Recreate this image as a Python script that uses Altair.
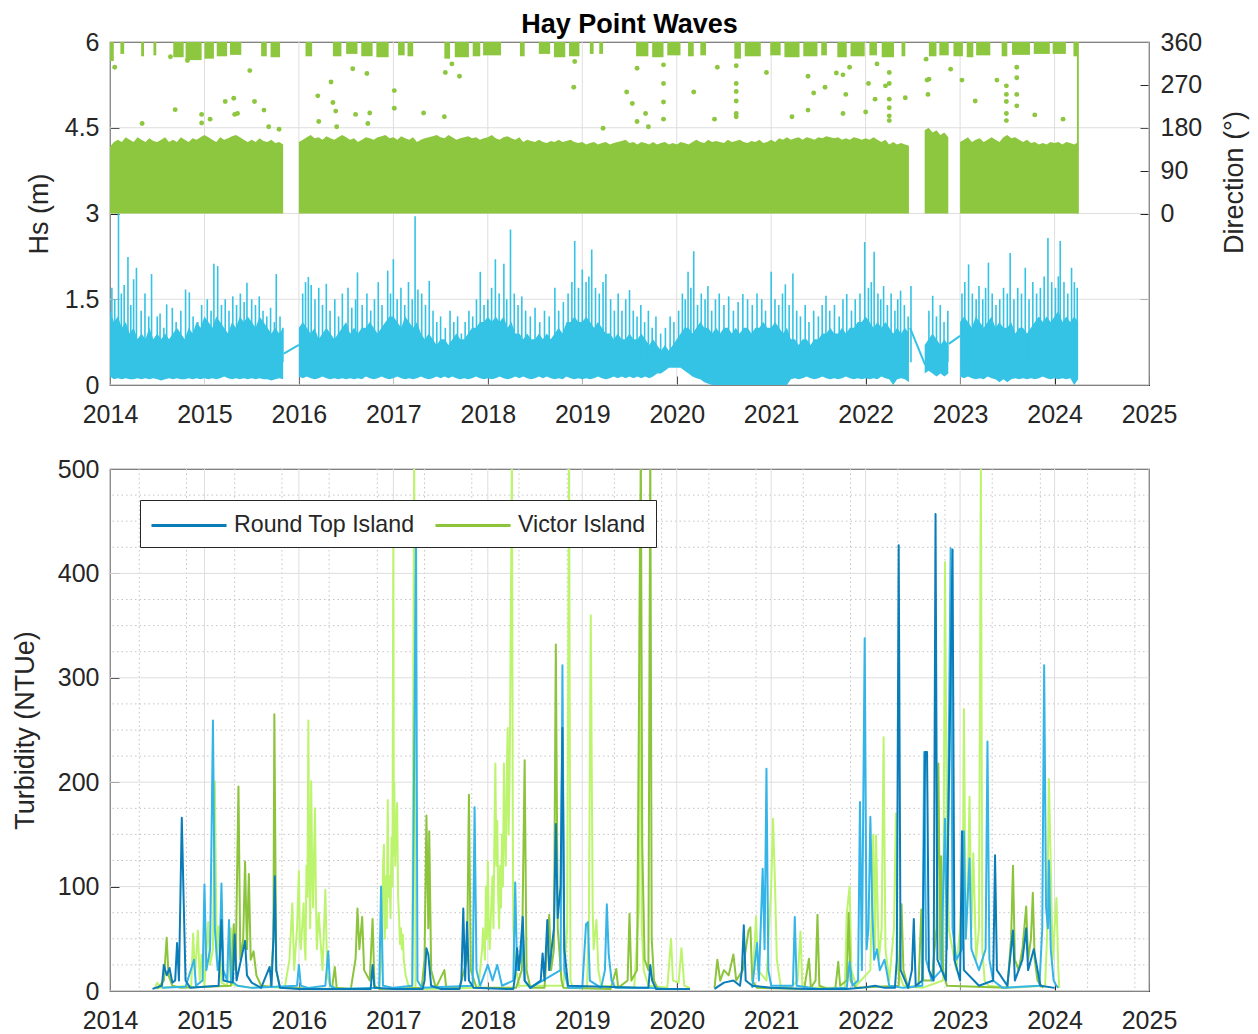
import altair as alt
import pandas as pd

FONT = "Liberation Sans"
INK = "#262626"
GRID = "#dedede"
MINOR = "#c4c4c4"
CYAN = "#34c3e5"
GREEN = "#8dc63f"
RT_LIGHT_C = "#35b4e8"
RT_DARK_C = "#0a7db8"
VI_DARK_C = "#8cc43c"
VI_LIGHT_C = "#bdf46e"

# ---------------- axis tick values ----------------
year_ticks = list(range(2014, 2026))
minor_year_ticks = [2014.31, 2014.81, 2015.32, 2015.82, 2016.32, 2016.83, 2017.33, 2017.83,
                    2018.33, 2018.84, 2019.34, 2019.84, 2020.34, 2020.84, 2021.34, 2021.84,
                    2022.34, 2022.84, 2023.34, 2023.85, 2024.35, 2024.85]
hs_ticks = [0, 1.5, 3, 4.5, 6]
dir_ticks = [-360, -180, 0, 90, 180, 270, 360]
turb_ticks = [0, 100, 200, 300, 400, 500]
turb_minor_ticks = [25, 50, 75, 125, 150, 175, 225, 250, 275, 325, 350, 375, 425, 450, 475]

# ---------------- Hs: half-monthly envelope (m), None = no data ----------------
hs_upper = {
    2014: [1.3, 1.1, 1.2, 1.0, 1.1, 0.9, 1.0, 0.8, 0.9, 0.8, 1.0, 0.8, 0.9, 0.8, 0.9, 0.8, 0.9, 1.0, 0.9, 0.8, 1.0, 0.9, 1.1, 1.0],
    2015: [1.2, 1.1, 1.0, 1.2, 1.1, 1.0, 0.9, 1.1, 1.0, 1.2, 1.1, 1.2, 1.1, 1.0, 1.2, 1.1, 1.0, 0.9, 1.0, 0.9, 1.0, None, None, None],
    2016: [1.0, 1.1, 1.0, 0.9, 1.0, 0.8, 0.9, 1.0, 0.9, 0.8, 0.9, 1.0, 1.1, 0.9, 1.0, 0.9, 1.0, 1.0, 1.1, 1.0, 0.9, 1.0, 1.1, 1.2],
    2017: [1.2, 1.1, 1.0, 1.2, 1.1, 1.0, 1.1, 0.9, 0.8, 0.9, 0.8, 0.7, 0.8, 0.8, 0.7, 0.8, 0.9, 0.8, 0.8, 0.9, 1.0, 1.0, 1.1, 1.1],
    2018: [1.2, 1.1, 1.2, 1.1, 1.2, 1.0, 1.1, 0.9, 0.9, 0.8, 0.9, 0.8, 0.8, 0.9, 0.8, 0.9, 0.8, 0.9, 1.0, 0.9, 1.1, 1.1, 1.2, 1.1],
    2019: [1.1, 1.2, 1.1, 1.0, 1.1, 1.0, 0.9, 0.9, 0.8, 0.9, 0.8, 0.8, 0.9, 0.8, 0.8, 0.9, 0.8, 0.7, 0.8, 0.7, 0.6, 0.7, 0.6, 0.7],
    2020: [0.8, 0.9, 1.0, 1.0, 0.9, 1.0, 1.1, 1.0, 1.0, 0.9, 1.0, 0.9, 1.0, 1.0, 0.9, 1.0, 0.9, 1.0, 1.0, 0.9, 1.0, 1.0, 1.1, 1.0],
    2021: [1.0, 1.1, 1.0, 0.9, 1.0, 0.8, 0.8, 0.7, 0.8, 0.8, 0.7, 0.8, 0.8, 0.9, 0.9, 1.0, 0.9, 0.9, 1.0, 0.9, 1.0, 1.0, 1.1, 1.1],
    2022: [1.2, 1.1, 1.0, 1.1, 1.0, 1.1, 1.0, 0.9, 1.0, 0.9, 1.0, 0.9, None, None, None, 0.7, 0.8, 0.9, 0.8, 0.7, 0.8, 0.7, None, None],
    2023: [1.1, 1.2, 1.1, 1.0, 1.2, 1.1, 1.0, 1.1, 1.2, 1.0, 1.1, 1.0, 1.0, 1.1, 0.9, 1.0, 1.0, 0.9, 1.0, 1.1, 1.2, 1.1, 1.2, 1.1],
    2024: [1.2, 1.3, 1.1, 1.2, 1.1, 1.2, 1.1],
}
hs_lower = {
    2014: [0.15, 0.1, 0.12, 0.1, 0.12, 0.1, 0.1, 0.12, 0.1, 0.12, 0.1, 0.12, 0.1, 0.08, 0.1, 0.12, 0.1, 0.12, 0.1, 0.1, 0.12, 0.1, 0.12, 0.1],
    2015: [0.12, 0.1, 0.12, 0.1, 0.12, 0.15, 0.12, 0.1, 0.12, 0.1, 0.12, 0.1, 0.12, 0.1, 0.12, 0.1, 0.1, 0.08, 0.1, 0.12, 0.1, None, None, None],
    2016: [0.15, 0.12, 0.15, 0.12, 0.1, 0.12, 0.15, 0.12, 0.1, 0.12, 0.1, 0.12, 0.1, 0.12, 0.1, 0.12, 0.1, 0.15, 0.12, 0.1, 0.12, 0.15, 0.12, 0.1],
    2017: [0.12, 0.15, 0.12, 0.1, 0.12, 0.1, 0.12, 0.15, 0.12, 0.1, 0.12, 0.15, 0.12, 0.15, 0.12, 0.15, 0.12, 0.1, 0.12, 0.1, 0.12, 0.15, 0.12, 0.1],
    2018: [0.12, 0.1, 0.12, 0.15, 0.12, 0.1, 0.12, 0.15, 0.12, 0.15, 0.12, 0.1, 0.12, 0.15, 0.12, 0.15, 0.12, 0.1, 0.12, 0.1, 0.15, 0.12, 0.1, 0.12],
    2019: [0.1, 0.12, 0.1, 0.12, 0.15, 0.12, 0.1, 0.12, 0.15, 0.12, 0.15, 0.12, 0.15, 0.12, 0.15, 0.12, 0.15, 0.12, 0.15, 0.2, 0.2, 0.25, 0.3, 0.3],
    2020: [0.3, 0.3, 0.25, 0.2, 0.15, 0.12, 0.1, 0.05, 0.02, 0, 0, 0, 0, 0, 0, 0, 0, 0, 0, 0, 0, 0, 0, 0],
    2021: [0, 0, 0, 0, 0, 0.1, 0.12, 0.1, 0.12, 0.15, 0.12, 0.1, 0.12, 0.15, 0.12, 0.1, 0.12, 0.1, 0.12, 0.15, 0.12, 0.1, 0.12, 0.1],
    2022: [0.12, 0.1, 0.12, 0.1, 0.15, 0.12, 0.1, 0.0, 0.1, 0.12, 0.1, 0.05, None, None, None, 0.2, 0.25, 0.2, 0.15, 0.2, 0.15, 0.2, None, None],
    2023: [0.15, 0.12, 0.15, 0.12, 0.1, 0.12, 0.1, 0.15, 0.12, 0.1, 0.05, 0.1, 0.05, 0.1, 0.12, 0.1, 0.12, 0.1, 0.12, 0.1, 0.12, 0.15, 0.12, 0.1],
    2024: [0.12, 0.1, 0.12, 0.1, 0.12, 0.0, 0.1],
}
# individual Hs peaks (decimal year, m)
hs_spikes = [
    (2014.02, 1.7), (2014.05, 1.5), (2014.09, 3.13), (2014.12, 1.6), (2014.15, 1.75), (2014.19, 2.24), (2014.22, 1.4),
    (2014.25, 1.85), (2014.28, 2.05), (2014.33, 1.3), (2014.37, 1.6), (2014.41, 1.2), (2014.44, 1.94), (2014.5, 1.2),
    (2014.53, 1.25), (2014.57, 1.0), (2014.6, 1.41), (2014.66, 1.35), (2014.7, 1.1), (2014.75, 1.3), (2014.8, 1.67),
    (2014.84, 1.62), (2014.88, 1.2), (2014.93, 1.1), (2014.97, 1.4),
    (2015.03, 1.5), (2015.07, 1.3), (2015.1, 2.12), (2015.14, 2.08), (2015.18, 1.4), (2015.22, 1.5), (2015.26, 1.3),
    (2015.3, 1.55), (2015.34, 1.4), (2015.38, 1.6), (2015.42, 1.45), (2015.45, 1.79), (2015.5, 1.5), (2015.54, 1.4),
    (2015.58, 1.55), (2015.62, 1.3), (2015.66, 1.2), (2015.7, 1.35), (2015.74, 1.1), (2015.76, 1.94), (2015.8, 1.2), (2015.83, 1.0),
    (2016.04, 1.6), (2016.07, 1.8), (2016.1, 1.89), (2016.13, 1.75), (2016.17, 1.5), (2016.21, 1.7), (2016.25, 1.4),
    (2016.29, 1.77), (2016.33, 1.3), (2016.38, 1.5), (2016.42, 1.2), (2016.46, 1.6), (2016.52, 1.7), (2016.56, 1.35),
    (2016.6, 1.5), (2016.62, 1.97), (2016.67, 1.4), (2016.72, 1.6), (2016.76, 1.3), (2016.8, 1.5), (2016.84, 1.8),
    (2016.88, 1.4), (2016.94, 2.0), (2016.97, 1.6),
    (2017.0, 2.2), (2017.04, 1.5), (2017.08, 1.7), (2017.12, 1.4), (2017.16, 1.8), (2017.2, 1.5), (2017.23, 2.95),
    (2017.26, 1.67), (2017.3, 1.6), (2017.34, 1.4), (2017.38, 1.82), (2017.42, 1.3), (2017.46, 1.1), (2017.5, 1.2),
    (2017.55, 1.0), (2017.6, 1.3), (2017.64, 1.1), (2017.68, 1.2), (2017.72, 0.9), (2017.76, 1.1), (2017.8, 1.3),
    (2017.84, 1.2), (2017.88, 1.5), (2017.92, 1.98), (2017.96, 1.4),
    (2018.0, 1.5), (2018.04, 1.7), (2018.08, 2.2), (2018.12, 1.6), (2018.17, 2.12), (2018.2, 1.5), (2018.24, 2.72),
    (2018.28, 1.6), (2018.32, 1.4), (2018.36, 1.55), (2018.4, 1.3), (2018.45, 1.2), (2018.5, 1.35), (2018.55, 1.1),
    (2018.6, 1.3), (2018.65, 1.2), (2018.71, 1.7), (2018.75, 1.3), (2018.8, 1.45), (2018.85, 1.6), (2018.89, 1.8),
    (2018.92, 2.52), (2018.96, 1.7),
    (2019.0, 2.02), (2019.04, 1.8), (2019.07, 1.9), (2019.1, 2.37), (2019.14, 1.7), (2019.18, 1.6), (2019.22, 1.8),
    (2019.25, 1.94), (2019.3, 1.5), (2019.34, 1.3), (2019.38, 1.6), (2019.42, 1.3), (2019.46, 1.5), (2019.5, 1.66),
    (2019.54, 1.3), (2019.58, 1.2), (2019.62, 1.4), (2019.66, 1.1), (2019.7, 1.3), (2019.74, 1.0), (2019.78, 1.2),
    (2019.83, 0.9), (2019.88, 1.0), (2019.93, 1.2), (2019.97, 1.1),
    (2020.02, 1.3), (2020.06, 1.6), (2020.09, 1.5), (2020.12, 1.98), (2020.15, 1.7), (2020.18, 2.34), (2020.22, 1.4),
    (2020.26, 1.6), (2020.3, 1.5), (2020.33, 1.73), (2020.37, 1.3), (2020.41, 1.5), (2020.45, 1.6), (2020.5, 1.4),
    (2020.55, 1.55), (2020.6, 1.3), (2020.65, 1.45), (2020.7, 1.59), (2020.75, 1.5), (2020.8, 1.4), (2020.85, 1.6),
    (2020.9, 1.5), (2020.94, 1.3),
    (2021.0, 1.98), (2021.04, 1.5), (2021.08, 1.4), (2021.12, 1.6), (2021.15, 1.76), (2021.19, 1.4), (2021.23, 1.95),
    (2021.27, 1.3), (2021.31, 1.2), (2021.36, 1.4), (2021.4, 1.1), (2021.45, 1.3), (2021.5, 1.2), (2021.54, 1.4),
    (2021.58, 1.56), (2021.62, 1.3), (2021.67, 1.4), (2021.72, 1.2), (2021.76, 1.5), (2021.8, 1.59), (2021.85, 1.3),
    (2021.89, 1.5), (2021.94, 1.6), (2021.99, 2.5),
    (2022.03, 1.7), (2022.06, 1.8), (2022.09, 2.33), (2022.13, 1.6), (2022.16, 1.5), (2022.19, 1.73), (2022.23, 1.4),
    (2022.27, 1.6), (2022.31, 1.3), (2022.34, 1.5), (2022.37, 1.65), (2022.41, 1.4), (2022.45, 1.2), (2022.48, 1.73),
    (2022.67, 1.3), (2022.71, 1.56), (2022.75, 1.2), (2022.79, 1.4), (2022.83, 1.1), (2022.87, 1.3),
    (2023.02, 1.6), (2023.05, 1.8), (2023.09, 2.11), (2023.13, 1.6), (2023.17, 1.5), (2023.2, 1.73), (2023.24, 1.5),
    (2023.27, 1.7), (2023.3, 2.14), (2023.34, 1.6), (2023.38, 1.4), (2023.42, 1.5), (2023.46, 1.7), (2023.5, 1.6),
    (2023.53, 2.31), (2023.57, 1.5), (2023.61, 1.7), (2023.65, 1.6), (2023.69, 2.05), (2023.73, 1.5), (2023.77, 1.8),
    (2023.81, 1.6), (2023.85, 1.7), (2023.89, 1.9), (2023.93, 2.57), (2023.97, 1.8),
    (2024.01, 1.7), (2024.04, 1.9), (2024.06, 2.52), (2024.1, 1.8), (2024.14, 1.6), (2024.18, 2.05), (2024.21, 1.8), (2024.24, 1.7),
]
# straight joins across missing Hs records: (t0, v0, t1, v1)
hs_joins = [(2015.84, 0.55, 2016.0, 0.7), (2022.47, 1.0, 2022.63, 0.35), (2022.88, 0.72, 2023.0, 0.86)]

# ---------------- Direction (deg) ----------------
dir_upper = {
    2014: [140, 150, 155, 150, 160, 155, 150, 160, 155, 150, 158, 152, 150, 155, 160, 150, 155, 150, 160, 155, 150, 158, 155, 160],
    2015: [165, 160, 155, 150, 160, 155, 158, 162, 165, 160, 155, 150, 155, 150, 158, 152, 150, 155, 148, 150, 145, None, None, None],
    2016: [150, 155, 160, 165, 158, 160, 155, 162, 158, 155, 160, 165, 160, 155, 158, 150, 155, 160, 158, 155, 160, 162, 165, 158],
    2017: [160, 155, 162, 158, 155, 160, 150, 155, 158, 160, 162, 165, 160, 158, 165, 160, 155, 158, 160, 162, 158, 160, 155, 158],
    2018: [160, 165, 158, 155, 160, 162, 158, 155, 160, 150, 155, 152, 150, 155, 150, 148, 152, 150, 155, 150, 152, 155, 150, 148],
    2019: [150, 145, 148, 150, 145, 148, 150, 145, 148, 150, 152, 155, 148, 150, 145, 150, 148, 145, 150, 145, 148, 150, 145, 148],
    2020: [145, 150, 148, 145, 150, 155, 150, 148, 155, 150, 152, 150, 148, 155, 150, 152, 155, 150, 148, 152, 150, 155, 148, 150],
    2021: [155, 150, 158, 155, 160, 155, 158, 160, 155, 160, 158, 155, 160, 158, 162, 160, 158, 160, 155, 158, 155, 160, 158, 155],
    2022: [158, 155, 160, 155, 150, 155, 145, 150, 145, 148, 145, 142, None, None, None, 175, 180, 170, 175, 165, 170, 160, None, None],
    2023: [150, 155, 160, 150, 155, 158, 150, 155, 160, 155, 150, 160, 165, 158, 160, 155, 150, 155, 148, 150, 145, 148, 145, 150],
    2024: [148, 150, 145, 150, 148, 145, 150],
}
# clusters of near-northerly readings: start, end, lowest direction
dir_cluster_start = [2014.0, 2014.11, 2014.33, 2014.46, 2014.67, 2014.8, 2015.0, 2015.13, 2015.27, 2015.6, 2015.7,
                     2016.07, 2016.36, 2016.5, 2016.66, 2016.82, 2017.05, 2017.15, 2017.54, 2017.65, 2017.84, 2017.95,
                     2018.34, 2018.54, 2018.7, 2018.86, 2019.08, 2019.18, 2019.57, 2019.74, 2019.9, 2020.12, 2020.25,
                     2020.61, 2020.72, 2020.99, 2021.14, 2021.34, 2021.53, 2021.7, 2021.84, 2022.04, 2022.17, 2022.38,
                     2022.67, 2022.78, 2022.93, 2023.07, 2023.17, 2023.44, 2023.55, 2023.78, 2023.98, 2024.2, 2024.237]
dir_cluster_end = [2014.04, 2014.15, 2014.36, 2014.49, 2014.78, 2014.97, 2015.1, 2015.24, 2015.39, 2015.66, 2015.8,
                   2016.14, 2016.45, 2016.62, 2016.78, 2016.95, 2017.12, 2017.21, 2017.6, 2017.8, 2017.92, 2018.14,
                   2018.39, 2018.66, 2018.82, 2018.97, 2019.12, 2019.22, 2019.7, 2019.86, 2020.04, 2020.18, 2020.31,
                   2020.68, 2020.89, 2021.1, 2021.3, 2021.49, 2021.59, 2021.8, 2021.99, 2022.12, 2022.3, 2022.42,
                   2022.75, 2022.88, 2023.03, 2023.14, 2023.32, 2023.5, 2023.74, 2023.95, 2024.12, 2024.25, 2024.257]
dir_cluster_low = [320, 335, 330, 332, 328, 322, 325, 330, 333, 330, 328,
                   330, 330, 335, 330, 328, 332, 330, 325, 328, 330, 332,
                   330, 335, 328, 330, 335, 335, 330, 328, 332, 330, 332,
                   325, 330, 332, 328, 330, 332, 328, 330, 332, 328, 330,
                   330, 332, 330, 328, 332, 330, 333, 335, 335, 330, 0]
# scattered readings
dir_out_t = [2014.05, 2014.34, 2014.64, 2014.69, 2014.82, 2014.97, 2014.97, 2015.06, 2015.22, 2015.31, 2015.32, 2015.35,
             2015.48, 2015.53, 2015.63, 2015.68, 2015.79, 2016.2, 2016.21, 2016.34, 2016.36, 2016.39, 2016.4, 2016.57,
             2016.6, 2016.72, 2016.73, 2016.75, 2017.01, 2017.01, 2017.32, 2017.54, 2017.55, 2017.62, 2017.7, 2018.91,
             2018.92, 2019.22, 2019.47, 2019.53, 2019.58, 2019.58, 2019.67, 2019.7, 2019.86, 2019.86, 2019.86, 2019.86,
             2020.18, 2020.4, 2020.43, 2020.63, 2020.63, 2020.63, 2020.63, 2020.63, 2020.63, 2020.95, 2021.22, 2021.39,
             2021.39, 2021.45, 2021.57, 2021.69, 2021.76, 2021.76, 2021.79, 2021.83, 2022.0, 2022.03, 2022.1, 2022.12,
             2022.21, 2022.25, 2022.25, 2022.25, 2022.25, 2022.25, 2022.25, 2022.42, 2022.64, 2022.65, 2022.66, 2022.67,
             2022.9, 2023.02, 2023.16, 2023.39, 2023.49, 2023.49, 2023.49, 2023.49, 2023.49, 2023.6, 2023.6, 2023.6,
             2023.6, 2023.79, 2024.09]
dir_out_v = [307, 189, 329, 218, 321, 208, 190, 198, 235, 242, 208, 210,
             300, 235, 217, 182, 177, 247, 193, 276, 233, 215, 182, 304,
             208, 294, 189, 211, 258, 221, 211, 203, 296, 314, 288, 265,
             319, 179, 255, 231, 305, 193, 210, 182, 312, 273, 234, 198,
             255, 198, 307, 310, 273, 256, 236, 210, 203, 296, 203, 288,
             217, 253, 265, 295, 291, 210, 250, 307, 213, 273, 240, 314,
             268, 296, 273, 240, 222, 205, 195, 243, 324, 280, 250, 282,
             303, 280, 236, 280, 268, 250, 235, 210, 195, 307, 285, 250,
             226, 207, 198]

# ---------------- Turbidity (NTUe): (decimal year, value); None = logger gap ----------------
vi_light = [(2014.47, 2), (2014.50, 8), (2014.53, 3), (2014.86, 5), (2014.88, 55), (2014.90, 15), (2014.93, 58), (2014.95, 10),
            (2014.97, 35), (2015.00, 5), (2015.04, 66), (2015.06, 25), (2015.09, 40), (2015.11, 201), (2015.13, 30), (2015.15, 62),
            (2015.18, 8), (2015.24, 5), (2015.28, 60), (2015.30, 6), (2015.50, 3), (2015.60, 4), (2015.85, 3), (2015.90, 30),
            (2015.93, 84), (2015.95, 20), (2015.98, 60), (2016.00, 115), (2016.01, 50), (2016.02, 40), (2016.04, 70), (2016.05, 84),
            (2016.06, 45), (2016.07, 30), (2016.08, 120), (2016.09, 90), (2016.10, 259), (2016.11, 110), (2016.12, 60), (2016.13, 201),
            (2016.14, 120), (2016.15, 80), (2016.16, 130), (2016.17, 175), (2016.18, 90), (2016.19, 40), (2016.21, 75), (2016.22, 60),
            (2016.25, 20), (2016.28, 97), (2016.30, 15), (2016.33, 5), (2016.40, 3), (2016.50, 2), (2016.85, 3), (2016.88, 40),
            (2016.89, 120), (2016.90, 140), (2016.91, 50), (2016.92, 110), (2016.93, 60), (2016.94, 183), (2016.95, 90), (2016.96, 110),
            (2016.97, 70), (2016.98, 147), (2016.99, 100), (2017.00, 450), (2017.005, 130), (2017.01, 200), (2017.02, 120), (2017.03, 160),
            (2017.04, 180), (2017.05, 90), (2017.06, 71), (2017.07, 45), (2017.08, 60), (2017.09, 40), (2017.10, 54), (2017.11, 30),
            (2017.13, 15), (2017.16, 5), (2017.20, 3), (2017.22, 520), (2017.235, 3), (2017.30, 2), (2017.90, 3), (2017.94, 40),
            (2017.95, 60), (2017.97, 30), (2017.98, 100), (2017.99, 50), (2018.00, 124), (2018.01, 60), (2018.02, 40), (2018.04, 90),
            (2018.05, 110), (2018.06, 60), (2018.07, 150), (2018.08, 218), (2018.09, 120), (2018.10, 163), (2018.11, 90), (2018.12, 60),
            (2018.13, 120), (2018.14, 80), (2018.15, 150), (2018.16, 100), (2018.17, 218), (2018.18, 150), (2018.19, 120), (2018.20, 200),
            (2018.21, 252), (2018.22, 150), (2018.23, 200), (2018.235, 250), (2018.24, 312), (2018.255, 520), (2018.265, 150), (2018.27, 60),
            (2018.28, 40), (2018.30, 20), (2018.33, 5), (2018.80, 5), (2018.84, 60), (2018.86, 520), (2018.875, 10), (2018.90, 3),
            (2019.05, 3), (2019.07, 65), (2019.09, 360), (2019.11, 79), (2019.12, 40), (2019.13, 50), (2019.15, 68), (2019.17, 20),
            (2019.20, 5), (2019.55, 3), (2019.60, 80), (2019.61, 470), (2019.63, 60), (2019.65, 20), (2019.70, 5), (2019.90, 3),
            (2019.94, 50), (2019.96, 10), (2020.02, 8), (2020.05, 41), (2020.08, 5), (2020.14, 3), None,
            (2020.80, 3), (2020.84, 71), (2020.86, 20), (2020.95, 10), (2021.00, 100), (2021.02, 165), (2021.04, 104), (2021.06, 30),
            (2021.10, 5), (2021.20, 3), (2021.28, 10), (2021.31, 57), (2021.33, 5), (2021.40, 3), (2021.78, 3), (2021.80, 74),
            (2021.83, 100), (2021.85, 20), (2021.90, 5), (2022.05, 20), (2022.08, 150), (2022.10, 40), (2022.11, 149), (2022.14, 30),
            (2022.17, 60), (2022.19, 243), (2022.21, 40), (2022.25, 10), (2022.30, 60), (2022.32, 170), (2022.34, 20), (2022.40, 5),
            (2022.60, 3), (2022.82, 10), (2022.84, 411), (2022.86, 150), (2022.88, 60), (2022.96, 20), (2023.00, 60), (2023.03, 120),
            (2023.04, 270), (2023.06, 50), (2023.08, 90), (2023.10, 186), (2023.12, 60), (2023.14, 132), (2023.17, 30), (2023.20, 60),
            (2023.22, 505), (2023.235, 40), (2023.26, 10), (2023.30, 5), (2023.50, 3), (2023.90, 5), (2023.92, 50), (2023.94, 203),
            (2023.96, 120), (2023.98, 30), (2024.02, 89), (2024.04, 20), (2024.05, 3)]
vi_dark = [(2014.50, 2), (2014.57, 10), (2014.60, 51), (2014.62, 15), (2014.66, 5), (2014.75, 3), (2015.28, 5), (2015.31, 64),
           (2015.33, 20), (2015.36, 196), (2015.38, 30), (2015.41, 50), (2015.43, 124), (2015.45, 40), (2015.47, 112), (2015.49, 30),
           (2015.52, 38), (2015.55, 15), (2015.60, 5), (2015.70, 4), (2015.73, 50), (2015.74, 265), (2015.76, 20), (2015.80, 3),
           (2016.35, 2), (2016.38, 23), (2016.40, 3), (2016.55, 2), (2016.60, 31), (2016.62, 79), (2016.64, 40), (2016.67, 71),
           (2016.69, 20), (2016.75, 10), (2016.78, 69), (2016.80, 5), (2016.85, 2), (2017.30, 3), (2017.33, 30), (2017.35, 168),
           (2017.37, 60), (2017.38, 153), (2017.40, 20), (2017.45, 3), (2017.54, 20), (2017.56, 3), (2017.70, 3), (2017.78, 30),
           (2017.80, 188), (2017.82, 20), (2017.88, 3), (2018.30, 3), (2018.36, 20), (2018.39, 221), (2018.41, 20), (2018.45, 3),
           (2018.60, 3), (2018.65, 73), (2018.67, 20), (2018.70, 40), (2018.72, 332), (2018.74, 60), (2018.78, 10), (2018.80, 3),
           (2019.30, 2), (2019.36, 21), (2019.38, 3), (2019.48, 10), (2019.50, 74), (2019.52, 10), (2019.58, 20), (2019.62, 520),
           (2019.635, 140), (2019.66, 30), (2019.70, 20), (2019.72, 520), (2019.735, 50), (2019.76, 10), (2019.80, 2), (2020.14, 2), None,
           (2020.40, 3), (2020.43, 30), (2020.46, 10), (2020.50, 20), (2020.55, 15), (2020.60, 35), (2020.63, 10), (2020.70, 20),
           (2020.76, 58), (2020.78, 61), (2020.80, 10), (2020.85, 3), (2021.35, 2), (2021.40, 31), (2021.42, 3), (2021.47, 10),
           (2021.49, 73), (2021.51, 5), (2021.60, 2), (2021.68, 3), (2021.71, 28), (2021.73, 5), (2021.80, 10), (2021.82, 75),
           (2021.84, 10), (2021.90, 3), (2022.35, 5), (2022.38, 83), (2022.40, 20), (2022.45, 3), (2022.56, 5), (2022.59, 78),
           (2022.61, 10), (2022.70, 10), (2022.75, 60), (2022.77, 218), (2022.79, 30), (2022.80, 129), (2022.82, 20), (2022.86, 5),
           (2023.50, 3), (2023.54, 50), (2023.56, 120), (2023.58, 30), (2023.62, 20), (2023.66, 40), (2023.70, 81), (2023.72, 30),
           (2023.75, 50), (2023.77, 94), (2023.79, 30), (2023.82, 10), (2023.88, 3)]
rt_light = [(2014.55, 3), (2014.80, 4), (2014.89, 30), (2014.91, 5), (2014.98, 10), (2015.00, 102), (2015.02, 20), (2015.06, 40),
            (2015.09, 259), (2015.11, 60), (2015.14, 20), (2015.16, 30), (2015.18, 103), (2015.20, 20), (2015.24, 10), (2015.26, 68),
            (2015.28, 10), (2015.35, 5), (2015.50, 3), (2015.98, 5), (2016.00, 25), (2016.02, 5), (2016.10, 3), (2016.28, 5),
            (2016.31, 38), (2016.33, 5), (2016.40, 2), (2016.85, 3), (2016.87, 100), (2016.89, 5), (2017.00, 3), (2017.20, 5),
            (2017.24, 440), (2017.255, 10), (2017.30, 3), (2017.84, 5), (2017.86, 176), (2017.88, 20), (2017.92, 5), (2018.00, 25),
            (2018.05, 10), (2018.10, 25), (2018.15, 5), (2018.27, 10), (2018.29, 104), (2018.31, 20), (2018.35, 30), (2018.37, 61),
            (2018.39, 10), (2018.45, 3), (2018.77, 20), (2018.79, 312), (2018.81, 20), (2018.85, 3), (2019.00, 3), (2019.04, 64),
            (2019.06, 66), (2019.08, 10), (2019.20, 3), (2019.24, 20), (2019.26, 83), (2019.28, 35), (2019.31, 10), (2019.35, 3),
            (2019.70, 3), (2019.90, 2), (2020.14, 2), None,
            (2020.80, 3), (2020.85, 46), (2020.87, 10), (2020.91, 117), (2020.93, 40), (2020.95, 213), (2020.97, 20), (2021.00, 5),
            (2021.23, 5), (2021.25, 71), (2021.27, 5), (2021.50, 2), (2021.80, 3), (2021.83, 28), (2021.86, 5), (2021.92, 10),
            (2021.94, 181), (2021.96, 20), (2021.99, 338), (2022.01, 40), (2022.03, 60), (2022.05, 167), (2022.07, 78), (2022.09, 30),
            (2022.12, 40), (2022.15, 20), (2022.20, 30), (2022.25, 5), (2022.40, 3), (2022.60, 5), (2022.62, 229), (2022.64, 30),
            (2022.70, 10), (2022.80, 20), (2022.84, 165), (2022.86, 40), (2022.90, 424), (2022.92, 60), (2022.96, 30), (2023.02, 40),
            (2023.04, 153), (2023.06, 50), (2023.10, 127), (2023.12, 40), (2023.16, 30), (2023.20, 20), (2023.27, 40), (2023.29, 239),
            (2023.31, 30), (2023.35, 10), (2023.45, 3), (2023.84, 5), (2023.87, 60), (2023.89, 312), (2023.91, 80), (2023.93, 60),
            (2023.94, 125), (2023.96, 40), (2023.99, 10), (2024.02, 5), (2024.04, 3)]
rt_dark = [(2014.45, 2), (2014.55, 5), (2014.57, 25), (2014.60, 15), (2014.63, 22), (2014.66, 8), (2014.69, 10), (2014.71, 46),
           (2014.73, 10), (2014.76, 166), (2014.78, 86), (2014.80, 10), (2014.85, 3), (2015.15, 5), (2015.18, 68), (2015.20, 10),
           (2015.30, 8), (2015.32, 54), (2015.34, 10), (2015.43, 48), (2015.45, 15), (2015.50, 8), (2015.60, 3), (2015.69, 23),
           (2015.71, 5), (2015.73, 50), (2015.745, 110), (2015.76, 20), (2015.80, 3), (2016.00, 2), (2016.76, 2), (2016.78, 25),
           (2016.80, 3), (2017.00, 2), (2017.31, 2), (2017.33, 10), (2017.35, 41), (2017.37, 35), (2017.40, 5), (2017.50, 2),
           (2017.70, 2), (2017.72, 10), (2017.74, 79), (2017.76, 10), (2017.78, 66), (2017.80, 10), (2017.85, 3), (2018.20, 2),
           (2018.27, 2), (2018.29, 15), (2018.31, 41), (2018.33, 20), (2018.37, 71), (2018.39, 10), (2018.45, 3), (2018.56, 10),
           (2018.58, 36), (2018.60, 10), (2018.63, 68), (2018.65, 20), (2018.70, 60), (2018.72, 160), (2018.74, 70), (2018.77, 100),
           (2018.79, 252), (2018.81, 40), (2018.85, 5), (2019.60, 3), (2019.70, 3), (2019.72, 25), (2019.74, 10), (2019.78, 2),
           (2020.14, 2), None,
           (2020.40, 2), (2020.50, 8), (2020.60, 10), (2020.67, 5), (2020.69, 20), (2020.71, 63), (2020.73, 10), (2020.80, 5),
           (2021.00, 3), (2021.40, 2), (2021.80, 2), (2021.95, 3), (2022.10, 5), (2022.20, 3), (2022.31, 3), (2022.33, 30),
           (2022.35, 427), (2022.37, 20), (2022.45, 3), (2022.49, 20), (2022.51, 69), (2022.53, 5), (2022.60, 10), (2022.63, 229),
           (2022.65, 229), (2022.67, 20), (2022.72, 10), (2022.74, 457), (2022.76, 30), (2022.85, 10), (2022.92, 423), (2022.94, 30),
           (2023.00, 10), (2023.02, 153), (2023.04, 20), (2023.20, 5), (2023.35, 10), (2023.37, 130), (2023.39, 20), (2023.50, 5),
           (2023.56, 58), (2023.58, 10), (2023.66, 30), (2023.70, 60), (2023.72, 20), (2023.78, 40), (2023.80, 30), (2023.85, 5),
           (2024.00, 3)]


# ---------------- build tables ----------------
def half_month_table(upper, lower=None):
    rows, seg, gap = [], 0, False
    for year in sorted(upper):
        ups = upper[year]
        lows = lower[year] if lower is not None else ups
        for k, (u, l) in enumerate(zip(ups, lows)):
            if u is None:
                if not gap:
                    seg += 1
                gap = True
                continue
            gap = False
            rows.append({"t": year + k / 24, "hi": u, "lo": l, "seg": seg})
    return pd.DataFrame(rows)


def series_table(name, pairs):
    rows, seg = [], 0
    for p in pairs:
        if p is None:
            seg += 1
            continue
        rows.append({"t": p[0], "v": p[1], "series": name, "seg": seg})
    return pd.DataFrame(rows)


hs_df = half_month_table(hs_upper, hs_lower)
dir_df = half_month_table(dir_upper)
spk_df = pd.DataFrame(hs_spikes, columns=["t", "peak"])
join_rows = []
for i, (t0, v0, t1, v1) in enumerate(hs_joins):
    join_rows += [{"t": t0, "v": v0, "seg": i}, {"t": t1, "v": v1, "seg": i}]
join_df = pd.DataFrame(join_rows)
clu_df = pd.DataFrame({"t0": dir_cluster_start, "t1": dir_cluster_end, "lo": dir_cluster_low})
out_df = pd.DataFrame({"t": dir_out_t, "d": dir_out_v})

W = 1039
TICK = 9
LBL = 25
TTL = 27

xs = alt.Scale(domain=[2014, 2025], nice=False, zero=False)
hs_scale = alt.Scale(domain=[0, 6], nice=False, zero=False)
dir_scale = alt.Scale(domain=[-360, 360], nice=False, zero=False)
turb_scale = alt.Scale(domain=[0, 500], nice=False, zero=False)

XAX = alt.Axis(values=year_ticks, format="d", grid=False, domain=False, tickSize=TICK, offset=-TICK,
               tickColor=INK, labelFont=FONT, labelFontSize=LBL, labelColor=INK, labelPadding=17,
               labelFlush=False, labelOverlap=False, title=None)
HSAX = alt.Axis(values=hs_ticks, labelExpr="'' + datum.value", grid=False, domain=False, tickSize=TICK,
                offset=-TICK, tickColor=INK, labelFont=FONT, labelFontSize=LBL, labelColor=INK, labelPadding=11,
                title="Hs (m)", titleFont=FONT, titleFontSize=TTL, titleFontWeight="normal",
                titleColor=INK, titlePadding=11, orient="left")
DIRAX = alt.Axis(values=dir_ticks, format="d", labelExpr="datum.value >= 0 ? datum.label : ''",
                 grid=False, domain=False, tickSize=TICK, offset=-TICK, tickColor=INK,
                 labelFont=FONT, labelFontSize=LBL, labelColor=INK, labelPadding=11,
                 title="Direction (°)", titleFont=FONT, titleFontSize=TTL, titleFontWeight="normal",
                 titleColor=INK, titlePadding=20, titleAngle=270, titleBaseline="top", titleY=140, orient="right")
TAX = alt.Axis(values=turb_ticks, format="d", grid=False, domain=False, tickSize=TICK, offset=-TICK,
               tickColor=INK, labelFont=FONT, labelFontSize=LBL, labelColor=INK, labelPadding=11,
               title="Turbidity (NTUe)", titleFont=FONT, titleFontSize=TTL, titleFontWeight="normal",
               titleColor=INK, titlePadding=18, orient="left")

X = lambda f: alt.X(f, scale=xs, axis=XAX)

# ---------- top panel ----------
g_year = alt.Chart(pd.DataFrame({"t": year_ticks})).mark_rule(color=GRID, strokeWidth=1).encode(x=X("t:Q"))
g_hs = alt.Chart(pd.DataFrame({"h": hs_ticks})).mark_rule(color=GRID, strokeWidth=1).encode(
    y=alt.Y("h:Q", scale=hs_scale, axis=HSAX))
hs_band = alt.Chart(hs_df).mark_area(color=CYAN, opacity=1).encode(
    x=X("t:Q"), y=alt.Y("hi:Q", scale=hs_scale, axis=HSAX), y2="lo:Q", detail="seg:N")
hs_spk = alt.Chart(spk_df).mark_rule(color=CYAN, strokeWidth=1.6).encode(
    x=X("t:Q"), y=alt.Y("peak:Q", scale=hs_scale, axis=HSAX), y2=alt.datum(0.4))
hs_join = alt.Chart(join_df).mark_line(color=CYAN, strokeWidth=2).encode(
    x=X("t:Q"), y=alt.Y("v:Q", scale=hs_scale, axis=HSAX), detail="seg:N")

dir_band = alt.Chart(dir_df).mark_area(color=GREEN, opacity=1).encode(
    x=X("t:Q"), y=alt.Y("hi:Q", scale=dir_scale, axis=DIRAX), y2=alt.datum(0), detail="seg:N")
dir_clu = alt.Chart(clu_df).mark_rect(color=GREEN).encode(
    x=X("t0:Q"), x2="t1:Q", y=alt.Y("lo:Q", scale=dir_scale, axis=DIRAX), y2=alt.datum(360))
dir_pts = alt.Chart(out_df).mark_circle(color=GREEN, size=24, opacity=1).encode(
    x=X("t:Q"), y=alt.Y("d:Q", scale=dir_scale, axis=DIRAX))

top = alt.layer(
    alt.layer(g_year, g_hs, hs_band, hs_spk, hs_join),
    alt.layer(dir_band, dir_clu, dir_pts),
).resolve_scale(y="independent").properties(
    width=W, height=343,
    title=alt.Title("Hay Point Waves", font=FONT, fontSize=TTL, fontWeight="bold", color="black",
                    anchor="middle", frame="group", offset=-9))

# ---------- bottom panel ----------
b_minor_x = alt.Chart(pd.DataFrame({"t": minor_year_ticks})).mark_rule(
    color=MINOR, strokeWidth=1, strokeDash=[1.5, 3]).encode(x=X("t:Q"))
b_minor_y = alt.Chart(pd.DataFrame({"v": turb_minor_ticks})).mark_rule(
    color=MINOR, strokeWidth=1, strokeDash=[1.5, 3]).encode(y=alt.Y("v:Q", scale=turb_scale, axis=TAX))
b_major_x = alt.Chart(pd.DataFrame({"t": year_ticks})).mark_rule(color=GRID, strokeWidth=1).encode(x=X("t:Q"))
b_major_y = alt.Chart(pd.DataFrame({"v": turb_ticks})).mark_rule(color=GRID, strokeWidth=1).encode(
    y=alt.Y("v:Q", scale=turb_scale, axis=TAX))

series_names = ["RT_light", "RT_dark", "VI_dark", "VI_light"]
series_colors = [RT_LIGHT_C, RT_DARK_C, VI_DARK_C, VI_LIGHT_C]
# legend sits at the top level of the concatenation; offsets are from the top panel's origin
color = alt.Color("series:N", scale=alt.Scale(domain=series_names, range=series_colors),
                  legend=alt.Legend(values=["RT_dark", "VI_dark"],
                                    labelExpr="datum.value == 'RT_dark' ? 'Round Top Island' : 'Victor Island'",
                                    title=None, orient="none", legendX=30, legendY=458, direction="horizontal",
                                    symbolType="M-1,0H4.56", symbolSize=729, symbolStrokeWidth=3,
                                    labelFont=FONT, labelFontSize=23.2, labelColor=INK, labelLimit=400,
                                    labelOffset=54, columnPadding=14, padding=10, strokeColor=INK,
                                    fillColor="white", cornerRadius=0))


def turb_layer(name, pairs):
    return alt.Chart(series_table(name, pairs)).mark_line(strokeWidth=2, clip=True, strokeJoin="round").encode(
        x=X("t:Q"), y=alt.Y("v:Q", scale=turb_scale, axis=TAX), color=color, detail="seg:N")


bottom = alt.layer(
    b_minor_x, b_minor_y, b_major_x, b_major_y,
    turb_layer("VI_light", vi_light), turb_layer("VI_dark", vi_dark),
    turb_layer("RT_light", rt_light), turb_layer("RT_dark", rt_dark),
).properties(width=W, height=522)

chart = alt.vconcat(top, bottom, spacing=28).configure_view(
    stroke=INK, strokeWidth=1.2).properties(
    padding={"left": 10, "top": 10, "right": 5, "bottom": 2}, background="white")

chart.save("out.html", embed_options={"renderer": "svg", "actions": False})
